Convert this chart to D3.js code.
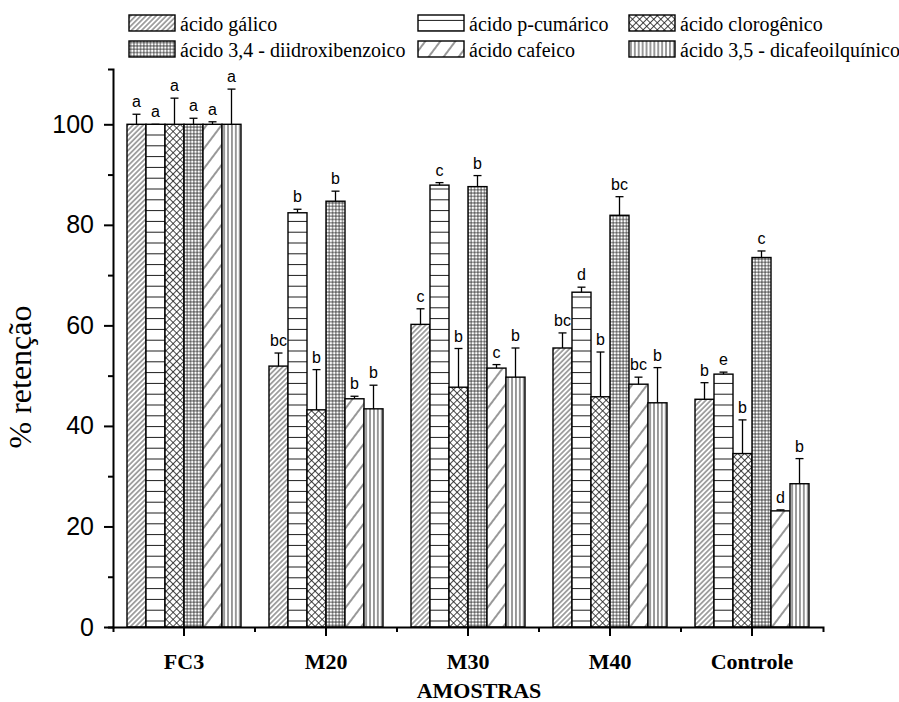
<!DOCTYPE html>
<html>
<head>
<meta charset="utf-8">
<script src="https://cdn.jsdelivr.net/npm/d3@7"></script>
<style>
  body { margin: 0; background: #fff; }
  svg { display: block; }
</style>
</head>
<body>
<script>
const categories = ["FC3", "M20", "M30", "M40", "Controle"];
const seriesNames = ["ácido gálico", "ácido p-cumárico", "ácido clorogênico",
  "ácido 3,4 - diidroxibenzoico", "ácido cafeico", "ácido 3,5 - dicafeoilquínico"];
const seriesKeys = ["galico", "cumarico", "clorogenico", "diidroxi", "cafeico", "dicafeoil"];

// % retenção per sample, one array per acid
const galico      = [100, 51.9, 60.2, 55.5, 45.3];
const cumarico    = [100, 82.4, 87.9, 66.6, 50.3];
const clorogenico = [100, 43.2, 47.7, 45.8, 34.5];
const diidroxi    = [100, 84.7, 87.6, 81.9, 73.5];
const cafeico     = [100, 45.4, 51.5, 48.3, 23.1];
const dicafeoil   = [100, 43.4, 49.7, 44.6, 28.5];

// standard deviations (upper error bars)
const galicoErr      = [2.0, 2.6, 3.1, 3.0, 3.3];
const cumaricoErr    = [0.0, 0.7, 0.5, 1.0, 0.4];
const clorogenicoErr = [5.2, 8.0, 7.7, 8.9, 6.7];
const diidroxiErr    = [1.2, 2.0, 2.2, 3.7, 1.3];
const cafeicoErr     = [0.5, 0.5, 0.7, 1.4, 0.2];
const dicafeoilErr   = [7.0, 4.7, 5.8, 7.0, 5.0];

// significance letters
const galicoLetters      = ["a", "bc", "c", "bc", "b"];
const cumaricoLetters    = ["a", "b", "c", "d", "e"];
const clorogenicoLetters = ["a", "b", "b", "b", "b"];
const diidroxiLetters    = ["a", "b", "b", "bc", "c"];
const cafeicoLetters     = ["a", "b", "c", "bc", "d"];
const dicafeoilLetters   = ["a", "b", "b", "b", "b"];

const yTicks = [0, 20, 40, 60, 80, 100];
const yMinorTicks = [10, 30, 50, 70, 90];

const values = [galico, cumarico, clorogenico, diidroxi, cafeico, dicafeoil];
const errors = [galicoErr, cumaricoErr, clorogenicoErr, diidroxiErr, cafeicoErr, dicafeoilErr];
const letters = [galicoLetters, cumaricoLetters, clorogenicoLetters, diidroxiLetters, cafeicoLetters, dicafeoilLetters];

const width = 899;
const height = 702;

const svg = d3.select("body").append("svg")
  .attr("width", width)
  .attr("height", height)
  .attr("viewBox", [0, 0, width, height]);

svg.append("rect").attr("width", width).attr("height", height).attr("fill", "#fff");

// hatch patterns
const defs = svg.append("defs");
function addPattern(id, w, h, d, sw, rotate) {
  const p = defs.append("pattern")
    .attr("id", "pat-" + id)
    .attr("patternUnits", "userSpaceOnUse")
    .attr("width", w)
    .attr("height", h);
  if (rotate) p.attr("patternTransform", `rotate(${rotate})`);
  p.append("rect").attr("width", w).attr("height", h).attr("fill", "#fff");
  p.append("path").attr("d", d).attr("stroke", "#1a1a1a").attr("stroke-width", sw).attr("fill", "none");
}
addPattern("galico", 3.6, 10, "M1.8,0V10", 0.8, 45);
addPattern("cumarico", 10, 10.8, "M0,5.4H10", 1, 0);
addPattern("clorogenico", 5, 5, "M0,0.5H5M0.5,0V5", 0.8, 45);
addPattern("diidroxi", 3.3, 3.3, "M0,1.65H3.3M1.65,0V3.3", 0.7, 0);
addPattern("cafeico", 12, 10, "M6,0V10", 0.9, 37);
addPattern("dicafeoil", 3.9, 10, "M1.95,0V10", 0.9, 0);

const x0 = d3.scaleBand().domain(categories).range([113, 823]).padding(0);
const x1 = d3.scaleBand().domain(seriesKeys).range([14, x0.bandwidth() - 14]).padding(0);
const y = d3.scaleLinear().domain([0, 111]).range([627, 69]);

const rows = categories.map((c, ci) => ({
  category: c,
  items: seriesKeys.map((k, si) => ({
    key: k,
    value: values[si][ci],
    err: errors[si][ci],
    letter: letters[si][ci]
  }))
}));

const group = svg.append("g").selectAll("g")
  .data(rows)
  .join("g")
  .attr("transform", d => `translate(${x0(d.category)},0)`);

group.selectAll("rect")
  .data(d => d.items)
  .join("rect")
  .attr("x", d => x1(d.key))
  .attr("y", d => y(d.value))
  .attr("width", x1.bandwidth())
  .attr("height", d => y(0) - y(d.value))
  .attr("fill", d => `url(#pat-${d.key})`)
  .attr("stroke", "#000")
  .attr("stroke-width", 1.4);

const err = group.selectAll("g.err")
  .data(d => d.items)
  .join("g")
  .attr("class", "err")
  .attr("transform", d => `translate(${x1(d.key) + x1.bandwidth() / 2},0)`);

err.append("line")
  .attr("y1", d => y(d.value))
  .attr("y2", d => y(d.value + d.err))
  .attr("stroke", "#000")
  .attr("stroke-width", 1.3);
err.append("line")
  .attr("x1", -4).attr("x2", 4)
  .attr("y1", d => y(d.value + d.err))
  .attr("y2", d => y(d.value + d.err))
  .attr("stroke", "#000")
  .attr("stroke-width", 1.3);
err.append("text")
  .attr("y", d => y(d.value + d.err) - 7)
  .attr("text-anchor", "middle")
  .attr("font-family", "Arial, 'Liberation Sans', sans-serif")
  .attr("font-size", 16)
  .attr("fill", "#000")
  .text(d => d.letter);

// y axis
const yAxis = svg.append("g")
  .attr("transform", "translate(113,0)")
  .call(d3.axisLeft(y).tickValues(yTicks).tickSize(9).tickSizeOuter(5).tickPadding(10));
yAxis.select(".domain").attr("stroke-width", 2);
yAxis.selectAll(".tick line").attr("stroke-width", 2);
yAxis.selectAll(".tick text")
  .attr("font-family", "Arial, 'Liberation Sans', sans-serif")
  .attr("font-size", 25)
  .attr("fill", "#000");

const yMinor = svg.append("g")
  .attr("transform", "translate(113,0)")
  .call(d3.axisLeft(y).tickValues(yMinorTicks).tickSize(5).tickFormat(""));
yMinor.select(".domain").remove();
yMinor.selectAll(".tick line").attr("stroke-width", 2);

// x axis
const xAxis = svg.append("g")
  .attr("transform", "translate(0,627)")
  .call(d3.axisBottom(x0).tickSize(9).tickSizeOuter(5).tickPadding(17));
xAxis.select(".domain").attr("stroke-width", 2);
xAxis.selectAll(".tick line").attr("stroke-width", 2);
xAxis.selectAll(".tick text")
  .attr("font-family", "'Liberation Serif', 'Times New Roman', serif")
  .attr("font-weight", "bold")
  .attr("font-size", 22)
  .attr("fill", "#000");

svg.append("g")
  .attr("transform", "translate(0,627)")
  .selectAll("line")
  .data(categories.slice(1))
  .join("line")
  .attr("x1", d => x0(d)).attr("x2", d => x0(d))
  .attr("y1", 0).attr("y2", 5)
  .attr("stroke", "#000")
  .attr("stroke-width", 2);

// axis titles
svg.append("text")
  .attr("x", 479)
  .attr("y", 698)
  .attr("text-anchor", "middle")
  .attr("font-family", "'Liberation Serif', 'Times New Roman', serif")
  .attr("font-weight", "bold")
  .attr("font-size", 22)
  .text("AMOSTRAS");

svg.append("text")
  .attr("transform", "translate(31,377) rotate(-90)")
  .attr("text-anchor", "middle")
  .attr("font-family", "'Liberation Serif', 'Times New Roman', serif")
  .attr("font-size", 32)
  .text("% retenção");

// legend
const legendCols = [129, 418, 629];
const legendRows = [15, 41];
const legend = svg.append("g").selectAll("g")
  .data(seriesKeys)
  .join("g")
  .attr("transform", (d, i) => `translate(${legendCols[i % 3]},${legendRows[Math.floor(i / 3)]})`);

legend.append("rect")
  .attr("width", 46)
  .attr("height", 16)
  .attr("fill", d => `url(#pat-${d})`)
  .attr("stroke", "#000")
  .attr("stroke-width", 1.4);

legend.append("text")
  .attr("x", 51)
  .attr("y", 15.5)
  .attr("font-family", "'Liberation Serif', 'Times New Roman', serif")
  .attr("font-size", 20)
  .attr("fill", "#000")
  .text((d, i) => seriesNames[i]);
</script>
</body>
</html>
